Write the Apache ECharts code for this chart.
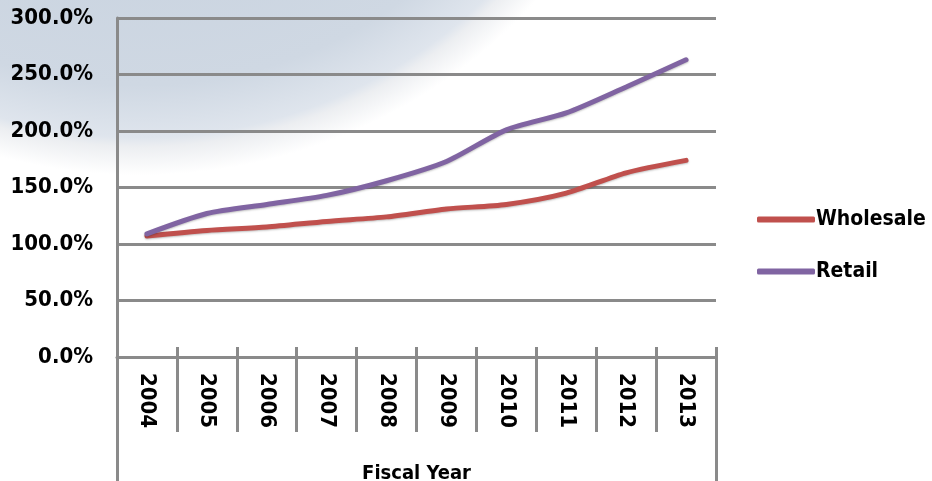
<!DOCTYPE html>
<html>
<head>
<meta charset="utf-8">
<script src="https://cdn.jsdelivr.net/npm/echarts@6/dist/echarts.min.js"></script>
<style>
  html, body { margin: 0; padding: 0; }
  body {
    width: 932px; height: 481px; overflow: hidden;
    background:
      radial-gradient(ellipse 490px 472px at 140px -330px,
        #c0ccdb 0%, #cfd8e3 88%, #dfe5ed 99%, #eceef1 101%, #ffffff 107%),
      #ffffff;
  }
  #chart { width: 932px; height: 481px; }
</style>
</head>
<body>
<div id="chart"></div>
<script>
// Fiscal years on the category axis
const years = ['2004', '2005', '2006', '2007', '2008', '2009', '2010', '2011', '2012', '2013'];
// Growth index, percent of base
const wholesale = [107, 112, 115, 120, 124, 131, 135, 145, 163, 174];
const retail = [109, 127, 135, 143, 156, 173, 201, 216, 239, 263];
// Value axis
const yMin = 0, yMax = 300, yStep = 50;

const FONT = '"DejaVu Sans Condensed", "Liberation Sans Narrow", "Liberation Sans", Arial, sans-serif';
const GRID_COLOR = '#8a8a8a';

const chart = echarts.init(document.getElementById('chart'), null, { renderer: 'canvas' });

const option = {
  backgroundColor: 'transparent',
  animation: false,
  grid: { left: 117, right: 216, top: 18, bottom: 124, containLabel: false, outerBoundsMode: 'none' },
  legend: {
    orient: 'vertical',
    left: 752,
    top: 204,
    itemGap: 31,
    itemWidth: 58,
    itemHeight: 6,
    icon: 'roundRect',
    textStyle: { fontFamily: FONT, fontWeight: 'bold', fontSize: 21, color: '#000', padding: [0, 0, 0, -4] },
    data: ['Wholesale', 'Retail']
  },
  xAxis: [
    {
      type: 'category',
      data: years,
      boundaryGap: true,
      name: 'Fiscal Year',
      nameLocation: 'middle',
      nameGap: 107,
      nameTextStyle: { fontFamily: FONT, fontWeight: 'bold', fontSize: 20, color: '#000' },
      axisLine: { show: true, lineStyle: { color: GRID_COLOR, width: 3 } },
      axisTick: { show: true, interval: 0, length: 75, lineStyle: { color: GRID_COLOR, width: 3 } },
      axisLabel: {
        interval: 0, rotate: -90, margin: 16,
        fontFamily: FONT, fontWeight: 'bold', fontSize: 22, color: '#000'
      },
      splitLine: { show: false }
    },
    {
      // short upward stubs at category boundaries
      type: 'category',
      data: years,
      position: 'bottom',
      boundaryGap: true,
      axisLine: { show: false },
      axisTick: { show: true, inside: true, interval: 0, length: 10, lineStyle: { color: GRID_COLOR, width: 3 } },
      axisLabel: { show: false },
      splitLine: { show: false }
    }
  ],
  yAxis: {
    type: 'value',
    min: yMin, max: yMax, interval: yStep,
    axisLine: { show: true, lineStyle: { color: GRID_COLOR, width: 3 } },
    axisTick: { show: false },
    axisLabel: {
      margin: 24,
      fontFamily: FONT, fontWeight: 'bold', fontSize: 22, color: '#000',
      formatter: v => v.toFixed(1) + '%'
    },
    splitLine: { show: true, lineStyle: { color: GRID_COLOR, width: 3 } }
  },
  series: [
    {
      name: 'Wholesale', type: 'line', data: wholesale,
      smooth: 0.25, showSymbol: false, symbol: 'none',
      lineStyle: { color: '#c0504d', width: 5, cap: 'round', shadowColor: 'rgba(0,0,0,0.25)', shadowBlur: 2, shadowOffsetY: 1 },
      itemStyle: { color: '#c0504d' },
      z: 3
    },
    {
      name: 'Retail', type: 'line', data: retail,
      smooth: 0.25, showSymbol: false, symbol: 'none',
      lineStyle: { color: '#8064a2', width: 5, cap: 'round', shadowColor: 'rgba(0,0,0,0.25)', shadowBlur: 2, shadowOffsetY: 1 },
      itemStyle: { color: '#8064a2' },
      z: 4
    }
  ]
};

chart.setOption(option);

// Extend the outer category boundaries down to the bottom edge
const rect = chart.getModel().getComponent('grid', 0).coordinateSystem.getRect();
const xL = Math.round(rect.x) + 0.5, xR = Math.round(rect.x + rect.width) + 0.5;
const yB = Math.round(rect.y + rect.height) - 2;
const H = chart.getHeight();
chart.setOption({
  graphic: [
    { type: 'polyline', z: 100, shape: { points: [[xL, yB], [xL, H]] },
      style: { stroke: GRID_COLOR, lineWidth: 3, fill: null } },
    { type: 'polyline', z: 100, shape: { points: [[xR, yB], [xR, H]] },
      style: { stroke: GRID_COLOR, lineWidth: 3, fill: null } }
  ]
});
</script>
</body>
</html>
